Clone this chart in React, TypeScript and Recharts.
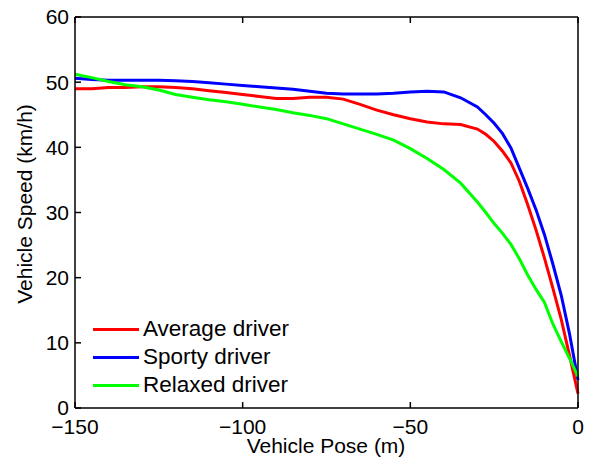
import React from 'react';
import { LineChart, Line, XAxis, YAxis, Legend, Label } from 'recharts';

// vehicle pose (m), distance to the stop point
const pose = [
    -150, -145, -140, -135, -130, -125, -120, -115, -110, -105, -100, -95, -90, -85, -80, -75, -70,
    -65, -60, -55, -50, -45, -40, -35, -30, -27.5, -25, -22.5, -20, -17.5, -15, -12.5, -10, -7.5,
    -5, -2.5, 0,
];

// speed (km/h) per driver type
const averageDriver = [
    49.0, 49.0, 49.2, 49.2, 49.3, 49.3, 49.2, 49.0, 48.7, 48.4, 48.1, 47.8, 47.5, 47.5, 47.7, 47.7,
    47.4, 46.6, 45.7, 45.0, 44.4, 43.9, 43.6, 43.5, 42.8, 42.0, 40.9, 39.4, 37.6, 34.8, 31.2, 27.3,
    23.0, 18.4, 13.6, 8.0, 2.2,
];
const sportyDriver = [
    50.6, 50.4, 50.3, 50.3, 50.3, 50.3, 50.2, 50.1, 49.9, 49.7, 49.5, 49.3, 49.1, 48.9, 48.6, 48.3,
    48.2, 48.2, 48.2, 48.3, 48.5, 48.6, 48.5, 47.6, 46.2, 45.0, 43.7, 42.1, 39.9, 36.8, 33.7, 30.4,
    26.6, 22.1, 17.3, 11.3, 4.3,
];
const relaxedDriver = [
    51.2, 50.7, 50.1, 49.6, 49.3, 48.8, 48.1, 47.7, 47.3, 47.0, 46.6, 46.2, 45.8, 45.3, 44.9, 44.4,
    43.6, 42.8, 42.0, 41.1, 39.8, 38.3, 36.6, 34.5, 31.6, 30.0, 28.3, 26.8, 25.1, 22.9, 20.4, 18.2,
    16.2, 12.9, 10.2, 7.6, 4.8,
];

const seriesNames = ['Average driver', 'Sporty driver', 'Relaxed driver'];
const xTicks = [-150, -100, -50, 0];
const yTicks = [0, 10, 20, 30, 40, 50, 60];

const data = pose.map((x, i) => ({
    x,
    average: averageDriver[i],
    sporty: sportyDriver[i],
    relaxed: relaxedDriver[i],
}));

const font = '"Liberation Sans", Arial, Helvetica, sans-serif';
const fmt = (v: number) => (v < 0 ? '\u2212' + Math.abs(v) : String(v));
const blank = () => '';

function LegendBox({ payload }: any) {
    // keep the plotting order, not the alphabetical one
    const items = [...(payload || [])].sort(
        (a: any, b: any) => seriesNames.indexOf(a.value) - seriesNames.indexOf(b.value)
    );
    return (
        <div style={{ fontFamily: font, fontSize: 22.5, color: '#000', lineHeight: 1 }}>
            {items.map((p: any) => (
                <div key={p.value} style={{ display: 'flex', alignItems: 'center', height: 28 }}>
                    <span style={{ width: 46, height: 3, background: p.color, marginRight: 4 }} />
                    <span>{p.value}</span>
                </div>
            ))}
        </div>
    );
}

export default function App() {
    return (
        <div style={{ position: 'absolute', left: 0, top: 0, width: 590, height: 463, background: '#fff' }}>
            <LineChart
                width={590}
                height={463}
                data={data}
                margin={{ top: 17, right: 12, bottom: 25, left: 0 }}
                style={{ fontFamily: font }}
            >
                <XAxis
                    dataKey="x"
                    type="number"
                    domain={[-150, 0]}
                    ticks={xTicks}
                    tickFormatter={fmt}
                    height={30}
                    tickSize={-6}
                    tickMargin={17}
                    stroke="#000"
                    strokeWidth={1.5}
                    tick={{ fill: '#000', fontSize: 21 }}
                >
                    <Label
                        content={() => (
                            <text x={326} y={453} textAnchor="middle" fontSize={21} fontFamily={font} fill="#000">
                                Vehicle Pose (m)
                            </text>
                        )}
                    />
                </XAxis>
                <XAxis
                    xAxisId="top"
                    orientation="top"
                    dataKey="x"
                    type="number"
                    domain={[-150, 0]}
                    ticks={xTicks}
                    tickFormatter={blank}
                    mirror
                    tickSize={6}
                    stroke="#000"
                    strokeWidth={1.5}
                />
                <YAxis
                    type="number"
                    domain={[0, 60]}
                    ticks={yTicks}
                    width={75}
                    tickSize={-6}
                    tickMargin={12}
                    stroke="#000"
                    strokeWidth={1.5}
                    tick={{ fill: '#000', fontSize: 21 }}
                >
                    <Label
                        content={() => (
                            <text
                                x={24}
                                y={204}
                                transform="rotate(-90 24 204)"
                                textAnchor="middle"
                                dominantBaseline="central"
                                fontSize={21}
                                fontFamily={font}
                                fill="#000"
                            >
                                Vehicle Speed (km/h)
                            </text>
                        )}
                    />
                </YAxis>
                <YAxis
                    yAxisId="right"
                    orientation="right"
                    type="number"
                    domain={[0, 60]}
                    ticks={yTicks}
                    tickFormatter={blank}
                    mirror
                    tickSize={6}
                    stroke="#000"
                    strokeWidth={1.5}
                />
                <Legend
                    layout="vertical"
                    align="center"
                    verticalAlign="middle"
                    content={<LegendBox />}
                    wrapperStyle={{ left: 93, top: 315, width: 'auto' }}
                />
                <Line
                    name={seriesNames[0]}
                    dataKey="average"
                    stroke="#ff0000"
                    strokeWidth={3}
                    dot={false}
                    isAnimationActive={false}
                />
                <Line
                    name={seriesNames[1]}
                    dataKey="sporty"
                    stroke="#0000ff"
                    strokeWidth={3}
                    dot={false}
                    isAnimationActive={false}
                />
                <Line
                    name={seriesNames[2]}
                    dataKey="relaxed"
                    stroke="#00ff00"
                    strokeWidth={3}
                    dot={false}
                    isAnimationActive={false}
                />
            </LineChart>
        </div>
    );
}
